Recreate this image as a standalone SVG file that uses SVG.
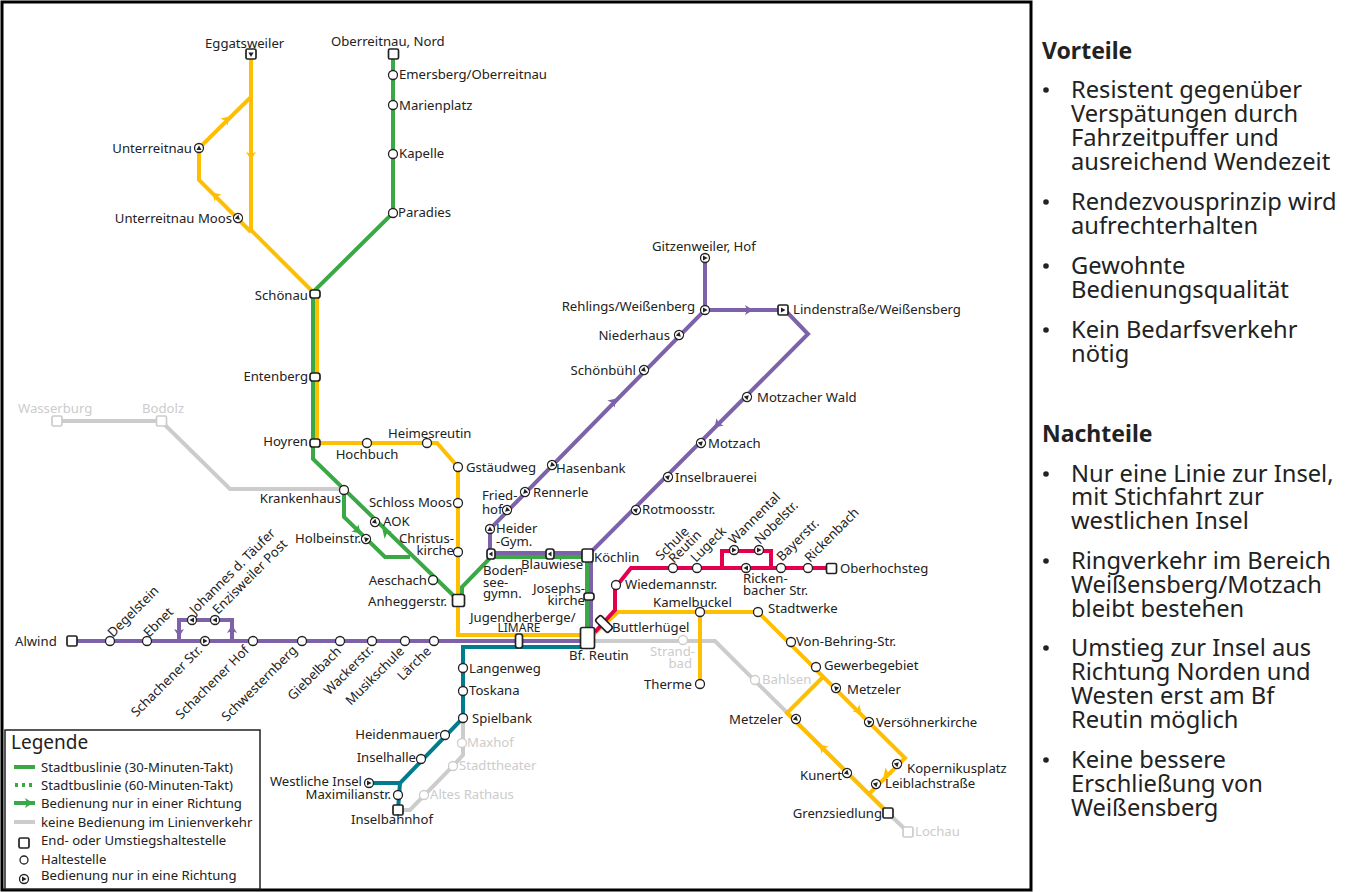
<svg xmlns="http://www.w3.org/2000/svg" width="1365" height="892" viewBox="0 0 1365 892">
<style>
text{font-family:"Noto Sans","Open Sans","Liberation Sans",sans-serif;font-size:13.15px;fill:#222}
.e{text-anchor:end}.m{text-anchor:middle}
.g text,text.g{fill:#ccc}
.l{fill:none;stroke-width:4;stroke-linejoin:miter}
.y{stroke:#ffbf00}.gr{stroke:#39a845}.p{stroke:#7d62aa}.t{stroke:#007c8c}.x{stroke:#ccc}.r{stroke:#e2004f}
.s{fill:#fff;stroke:#222;stroke-width:1.3}
.q{fill:#fff;stroke:#222;stroke-width:1.7}
.g .s,.g .q{stroke:#ccc}
.h{font-size:23.7px}.b{font-weight:700;font-size:23px}
.f{fill:#ffbf00}.fg{fill:#39a845}.fp{fill:#7d62aa}
</style>
<defs>
<g id="d"><circle class="s" r="4.5"/><path d="M-2.6 2 0-2.6 2.6 2Z" fill="#222"/></g>
<path id="a" d="M-5 3 0-5 5 3 0 1Z"/>
</defs>
<rect width="1365" height="892" fill="#fff"/>
<rect x="2" y="2" width="1029" height="888" fill="#fff" stroke="#000" stroke-width="3"/>
<g id="connectors">
<path class="l x" d="M57 421H161L230 489H344"/>
<path class="l x" d="M587 641H715L888 813L908 832"/>
<path class="l x" d="M463 718V755L453 766L410 810H398"/>
<path class="l y" d="M251 54V230L312 291M251 97L199 148V180L251 232M317 294V443H437L458 467V635H587M587 640L618 612H758L905 758L870 793M700 612V684M824 676L787 713L888 813"/>
<path class="l gr" d="M393 54V213L313 292V459L458 600M344 490V517L385 557H410M462 600V587L491 557H587V638"/>
<path class="l p" d="M72 641H587M179 641V620H232V641M705 258V310L490 529V553H591V638M705 310H785L808 334L591 552"/>
<path class="l t" d="M587 647H463V718L400 783L398 810M369 783H400"/>
<path class="l r" d="M595 632L615 610V588L631 568H831M722 568V551H771V568"/>
<g class="f">
<use href="#a" transform="translate(226 120) rotate(45)"/><use href="#a" transform="translate(251 155) rotate(180)"/><use href="#a" transform="translate(216 196) rotate(-45)"/>
<use href="#a" transform="translate(858 710) rotate(135)"/><use href="#a" transform="translate(823 748) rotate(-45)"/><use href="#a" transform="translate(887 773) rotate(225)"/>
</g>
<g class="fg"><use href="#a" transform="translate(357 530) rotate(135)"/><use href="#a" transform="translate(386 533) rotate(-45)"/></g>
<g class="fp">
<use href="#a" transform="translate(613 402) rotate(45)"/><use href="#a" transform="translate(718 424) rotate(225)"/><use href="#a" transform="translate(748 310) rotate(90)"/><use href="#a" transform="translate(550 553) rotate(-90)"/><use href="#a" transform="translate(179 632) rotate(180)"/><use href="#a" transform="translate(232 630)"/>
</g>
</g>
<g id="stops">
<g id="n-eggatsweiler"><rect class="q" x="246" y="49" width="10" height="10" rx="1.5"/><path d="M248.4 52.5H253.6L251 57Z" fill="#222"/><text x="205" y="48">Eggatsweiler</text></g>
<g id="n-oberreitnau"><rect class="q" x="388.500" y="49" width="10" height="10" rx="1.5"/><text x="331" y="46">Oberreitnau, Nord</text></g>
<g id="n-emersberg"><circle class="s" cx="393" cy="75" r="4.500"/><text x="399" y="79">Emersberg/Oberreitnau</text></g>
<g id="n-marienplatz"><circle class="s" cx="393" cy="105" r="4.500"/><text x="399" y="110">Marienplatz</text></g>
<g id="n-kapelle"><circle class="s" cx="393" cy="154" r="4.500"/><text x="399" y="158">Kapelle</text></g>
<g id="n-paradies"><circle class="s" cx="393" cy="213" r="4.500"/><text x="398" y="217">Paradies</text></g>
<g id="n-unterreitnau"><use href="#d" x="199" y="148"/><text class="e" x="192" y="153">Unterreitnau</text></g>
<g id="n-unterreitnau-moos"><use href="#d" transform="translate(238 218) rotate(135)"/><text class="e" x="232" y="223">Unterreitnau Moos</text></g>
<g id="n-schoenau"><rect class="q" x="310" y="290" width="10" height="8" rx="2.500"/><text class="e" x="308" y="300">Schönau</text></g>
<g id="n-entenberg"><rect class="q" x="310" y="373" width="10" height="8" rx="2.500"/><text class="e" x="308" y="381">Entenberg</text></g>
<g id="n-hoyren"><rect class="q" x="310" y="439" width="10" height="8" rx="2.500"/><text class="e" x="308" y="446">Hoyren</text></g>
<g id="n-hochbuch"><circle class="s" cx="367" cy="443" r="4.500"/><text class="m" x="367" y="459">Hochbuch</text></g>
<g id="n-heimesreutin"><circle class="s" cx="427" cy="443" r="4.500"/><text x="388" y="438">Heimesreutin</text></g>
<g id="n-gstaeudweg"><circle class="s" cx="458" cy="467" r="4.500"/><text x="466" y="472">Gstäudweg</text></g>
<g id="n-hasenbank"><use href="#d" transform="translate(552 465) rotate(225)"/><text x="556" y="473">Hasenbank</text></g>
<g id="n-rennerle"><use href="#d" transform="translate(525 492) rotate(225)"/><text x="533" y="497">Rennerle</text></g>
<g id="n-friedhof"><use href="#d" transform="translate(507 510) rotate(225)"/><text x="482" y="500">Fried-</text><text x="482" y="514">hof</text></g>
<g id="n-heider"><use href="#d" x="490" y="529"/><text x="496" y="533">Heider</text><text x="496" y="546">-Gym.</text></g>
<g id="n-bodensee"><rect class="q" x="487" y="549" width="8" height="10" rx="2.500"/><path d="M488.800 554 492.500 551.500V556.500Z" fill="#222"/><text x="483" y="575">Boden-</text><text x="483" y="587">see-</text><text x="483" y="598">gymn.</text></g>
<g id="n-blauwiese"><rect class="q" x="546" y="549" width="8" height="10" rx="2.500"/><path d="M547.800 554 551.500 551.500V556.500Z" fill="#222"/><text x="521" y="569">Blauwiese</text></g>
<g id="n-koechlin"><rect class="q" x="582" y="549" width="11" height="13" rx="2"/><text x="594" y="562">Köchlin</text></g>
<g id="n-josephskirche"><rect class="q" x="584" y="593" width="10" height="7" rx="2.500"/><text class="e" x="585" y="593">Josephs-</text><text class="e" x="585" y="605">kirche</text></g>
<g id="n-limare"><rect class="q" x="515.500" y="634" width="7" height="14" rx="2.500"/><text x="470" y="622">Jugendherberge/</text><text class="m" x="519" y="632" style="font-size:12px">LIMARE</text></g>
<g id="n-reutin"><rect class="q" x="580.500" y="627.500" width="14" height="21" rx="2"/><text x="569" y="660">Bf. Reutin</text></g>
<g id="n-buttlerhuegel"><rect class="q" x="595" y="620" width="18" height="8" rx="2.500" transform="rotate(45 604 624)"/><text x="612" y="632">Buttlerhügel</text></g>
<g id="n-wiedemann"><circle class="s" cx="616" cy="585" r="4.500"/><text x="625" y="589">Wiedemannstr.</text></g>
<g id="n-schule"><circle class="s" cx="673" cy="568" r="4.500"/><text x="661" y="561" transform="rotate(-45 661 561)">Schule</text><text x="674" y="564" transform="rotate(-45 674 564)">Reutin</text></g>
<g id="n-lugeck"><circle class="s" cx="697" cy="568" r="4.500"/><text x="696" y="563" transform="rotate(-45 696 563)">Lugeck</text></g>
<g id="n-wannental"><use href="#d" transform="translate(734 550) rotate(90)"/><text x="734" y="545" transform="rotate(-45 734 545)">Wannental</text></g>
<g id="n-nobelstr"><use href="#d" transform="translate(759 550) rotate(90)"/><text x="760" y="545" transform="rotate(-45 760 545)">Nobelstr.</text></g>
<g id="n-rickenbacher"><use href="#d" transform="translate(746 568) rotate(-90)"/><text x="743" y="583">Ricken-</text><text x="743" y="595">bacher Str.</text></g>
<g id="n-bayerstr"><circle class="s" cx="781" cy="568" r="4.500"/><text x="782" y="562" transform="rotate(-45 782 562)">Bayerstr.</text></g>
<g id="n-rickenbach"><circle class="s" cx="808" cy="568" r="4.500"/><text x="810" y="563" transform="rotate(-45 810 563)">Rickenbach</text></g>
<g id="n-oberhochsteg"><rect class="q" x="826.500" y="563.500" width="10" height="10" rx="1.500"/><text x="840" y="573">Oberhochsteg</text></g>
<g id="n-kamelbuckel"><circle class="s" cx="700" cy="612" r="4.500"/><text x="653" y="607">Kamelbuckel</text></g>
<g id="n-stadtwerke"><circle class="s" cx="758" cy="612" r="4.500"/><text x="768" y="613">Stadtwerke</text></g>
<g id="n-behring"><circle class="s" cx="791" cy="642" r="4.500"/><text x="796" y="646">Von-Behring-Str.</text></g>
<g id="n-gewerbe"><circle class="s" cx="816" cy="667" r="4.500"/><text x="824" y="670">Gewerbegebiet</text></g>
<g id="n-metzeler1"><use href="#d" transform="translate(836 688) rotate(-45)"/><text x="847" y="694">Metzeler</text></g>
<g id="n-versoehner"><use href="#d" transform="translate(869 722) rotate(-45)"/><text x="876" y="727">Versöhnerkirche</text></g>
<g id="n-kopernikus"><use href="#d" transform="translate(897 764) rotate(45)"/><text x="907" y="773">Kopernikusplatz</text></g>
<g id="n-leiblach"><use href="#d" transform="translate(876 784) rotate(45)"/><text x="885" y="788">Leiblachstraße</text></g>
<g id="n-kunert"><use href="#d" transform="translate(847 773) rotate(135)"/><text class="e" x="842" y="780">Kunert</text></g>
<g id="n-metzeler2"><use href="#d" transform="translate(796 719) rotate(135)"/><text class="e" x="783" y="724">Metzeler</text></g>
<g id="n-grenz"><rect class="q" x="883" y="808" width="10" height="10" rx="1.500"/><text class="e" x="882" y="818">Grenzsiedlung</text></g>
<g id="n-therme"><circle class="s" cx="700" cy="684" r="4.500"/><text class="e" x="692" y="689">Therme</text></g>
<g id="n-langenweg"><circle class="s" cx="463" cy="668" r="4.500"/><text x="469" y="673">Langenweg</text></g>
<g id="n-toskana"><circle class="s" cx="463" cy="691" r="4.500"/><text x="469" y="695">Toskana</text></g>
<g id="n-spielbank"><circle class="s" cx="463" cy="718" r="4.500"/><text x="472" y="723">Spielbank</text></g>
<g id="n-heidenmauer"><circle class="s" cx="445" cy="735" r="4.500"/><text class="e" x="440" y="739">Heidenmauer</text></g>
<g id="n-inselhalle"><circle class="s" cx="421" cy="759" r="4.500"/><text class="e" x="416" y="762">Inselhalle</text></g>
<g id="n-westinsel"><use href="#d" transform="translate(369 783) rotate(90)"/><text class="e" x="362" y="786">Westliche Insel</text></g>
<g id="n-maximilian"><circle class="s" cx="398" cy="795" r="4.500"/><text class="e" x="391" y="799">Maximilianstr.</text></g>
<g id="n-inselbahnhof"><rect class="q" x="393" y="805" width="10" height="10" rx="1.500"/><text x="351" y="824">Inselbahnhof</text></g>
<g id="n-krankenhaus"><circle class="s" cx="344" cy="490" r="4.500"/><text class="e" x="341" y="503">Krankenhaus</text></g>
<g id="n-schlossmoos"><circle class="s" cx="458" cy="503" r="4.500"/><text class="e" x="452" y="507">Schloss Moos</text></g>
<g id="n-aok"><use href="#d" transform="translate(375 522) rotate(135)"/><text x="383" y="526">AOK</text></g>
<g id="n-holbein"><use href="#d" transform="translate(366 539) rotate(-45)"/><text class="e" x="361" y="543">Holbeinstr.</text></g>
<g id="n-christus"><circle class="s" cx="458" cy="552" r="4.500"/><text class="e" x="454" y="543">Christus-</text><text class="e" x="454" y="555">kirche</text></g>
<g id="n-aeschach"><circle class="s" cx="433" cy="580" r="4.500"/><text class="e" x="427" y="585">Aeschach</text></g>
<g id="n-anhegger"><rect class="q" x="452.500" y="594.500" width="12" height="12" rx="2"/><text class="e" x="447" y="606">Anheggerstr.</text></g>
<g id="n-alwind"><rect class="q" x="67" y="636" width="10" height="10" rx="1.500"/><text x="15" y="646">Alwind</text></g>
<g id="n-degelstein"><circle class="s" cx="110" cy="641" r="4.500"/><text x="113" y="638" transform="rotate(-45 113 638)">Degelstein</text></g>
<g id="n-ebnet"><circle class="s" cx="147" cy="641" r="4.500"/><text x="149" y="638" transform="rotate(-45 149 638)">Ebnet</text></g>
<g id="n-johannes"><use href="#d" transform="translate(192 620) rotate(-90)"/><text x="195" y="615" transform="rotate(-45 195 615)">Johannes d. Täufer</text></g>
<g id="n-enzisweiler"><use href="#d" transform="translate(215 620) rotate(-90)"/><text x="218" y="615" transform="rotate(-45 218 615)">Enzisweiler Post</text></g>
<g id="n-schachenerstr"><use href="#d" transform="translate(205 641) rotate(90)"/><text class="e" x="203" y="651" transform="rotate(-45 203 651)">Schachener Str.</text></g>
<g id="n-schachenerhof"><circle class="s" cx="253" cy="641" r="4.500"/><text class="e" x="250" y="651" transform="rotate(-45 250 651)">Schachener Hof</text></g>
<g id="n-schwestern"><circle class="s" cx="302" cy="641" r="4.500"/><text class="e" x="298" y="651" transform="rotate(-45 298 651)">Schwesternberg</text></g>
<g id="n-giebelbach"><circle class="s" cx="340" cy="641" r="4.500"/><text class="e" x="342" y="652" transform="rotate(-45 342 652)">Giebelbach</text></g>
<g id="n-wackerstr"><circle class="s" cx="372" cy="641" r="4.500"/><text class="e" x="374" y="651" transform="rotate(-45 374 651)">Wackerstr.</text></g>
<g id="n-musikschule"><circle class="s" cx="405" cy="641" r="4.500"/><text class="e" x="405" y="652" transform="rotate(-45 405 652)">Musikschule</text></g>
<g id="n-laerche"><circle class="s" cx="434" cy="641" r="4.500"/><text class="e" x="432" y="652" transform="rotate(-45 432 652)">Lärche</text></g>
<g id="n-gitzenweiler"><use href="#d" transform="translate(705 258) rotate(90)"/><text x="652" y="251">Gitzenweiler, Hof</text></g>
<g id="n-rehlings"><use href="#d" transform="translate(705 310) rotate(90)"/><text class="e" x="695" y="311">Rehlings/Weißenberg</text></g>
<g id="n-lindenstr"><rect class="q" x="778" y="305" width="10" height="10" rx="1.500"/><path d="M781 307.500 785.500 310 781 312.500Z" fill="#222"/><text x="793" y="314">Lindenstraße/Weißensberg</text></g>
<g id="n-niederhaus"><use href="#d" transform="translate(679 335) rotate(135)"/><text class="e" x="670" y="340">Niederhaus</text></g>
<g id="n-schoenbuehl"><use href="#d" transform="translate(644 370) rotate(135)"/><text class="e" x="636" y="375">Schönbühl</text></g>
<g id="n-motzwald"><use href="#d" transform="translate(747 397) rotate(45)"/><text x="757" y="402">Motzacher Wald</text></g>
<g id="n-motzach"><use href="#d" transform="translate(701 443) rotate(45)"/><text x="708" y="448">Motzach</text></g>
<g id="n-inselbrauerei"><use href="#d" transform="translate(668 477) rotate(45)"/><text x="675" y="482">Inselbrauerei</text></g>
<g id="n-rotmoos"><use href="#d" transform="translate(636 510) rotate(45)"/><text x="642" y="514">Rotmoosstr.</text></g>
<g class="g" id="unserved">
<g id="n-wasserburg"><rect class="q" x="52" y="416" width="10" height="10" rx="1.500"/><text x="18" y="413">Wasserburg</text></g>
<g id="n-bodolz"><rect class="q" x="156.500" y="416" width="10" height="10" rx="1.500"/><text x="142" y="413">Bodolz</text></g>
<g id="n-strandbad"><circle class="s" cx="683" cy="640" r="4.500"/><text class="e" x="695" y="656">Strand-</text><text class="e" x="692" y="668">bad</text></g>
<g id="n-bahlsen"><circle class="s" cx="755" cy="680" r="4.500"/><text x="762" y="684">Bahlsen</text></g>
<g id="n-lochau"><rect class="q" x="903" y="827" width="10" height="10" rx="1.500"/><text x="915" y="836">Lochau</text></g>
<g id="n-maxhof"><circle class="s" cx="462" cy="743" r="4.500"/><text x="467" y="747">Maxhof</text></g>
<g id="n-stadttheater"><circle class="s" cx="453" cy="766" r="4.500"/><text x="459" y="770">Stadttheater</text></g>
<g id="n-altesrathaus"><circle class="s" cx="424" cy="795" r="4.500"/><text x="430" y="799">Altes Rathaus</text></g>
</g>
</g>
<g id="legend">
<rect x="5" y="730" width="255" height="159" fill="#fff" stroke="#222" stroke-width="1.500"/>
<text x="11" y="749" style="font-size:19px">Legende</text>
<path class="l gr" d="M14 767H35"/><path class="l gr" d="M15 785H35" stroke-dasharray="3 4"/><path class="l gr" d="M14 803H35"/>
<use class="fg" href="#a" transform="translate(28 803) rotate(90)"/>
<path class="l x" d="M14 822H35"/>
<rect class="q" x="19" y="838" width="10" height="10" rx="1.500"/>
<circle class="s" cx="24" cy="860" r="4"/>
<use href="#d" transform="translate(24 879) rotate(90)"/>
<text x="41" y="772">Stadtbuslinie (30-Minuten-Takt)</text>
<text x="41" y="790">Stadtbuslinie (60-Minuten-Takt)</text>
<text x="41" y="808">Bedienung nur in einer Richtung</text>
<text x="41" y="827">keine Bedienung im Linienverkehr</text>
<text x="41" y="845">End- oder Umstiegshaltestelle</text>
<text x="41" y="864">Haltestelle</text>
<text x="41" y="880">Bedienung nur in eine Richtung</text>
</g>
<g id="notes">
<text class="b" x="1042" y="59">Vorteile</text>
<text class="b" x="1042" y="442">Nachteile</text>
<g fill="#222"><circle cx="1046" cy="90" r="2.800"/><circle cx="1046" cy="202" r="2.800"/><circle cx="1046" cy="266" r="2.800"/><circle cx="1046" cy="330" r="2.800"/><circle cx="1046" cy="474" r="2.800"/><circle cx="1046" cy="561" r="2.800"/><circle cx="1046" cy="648" r="2.800"/><circle cx="1046" cy="760" r="2.800"/></g>
<g class="k">
<text class="h" x="1071" y="98">Resistent gegenüber</text>
<text class="h" x="1071" y="122">Verspätungen durch</text>
<text class="h" x="1071" y="146">Fahrzeitpuffer und</text>
<text class="h" x="1071" y="170">ausreichend Wendezeit</text>
<text class="h" x="1071" y="210">Rendezvousprinzip wird</text>
<text class="h" x="1071" y="234">aufrechterhalten</text>
<text class="h" x="1071" y="274">Gewohnte</text>
<text class="h" x="1071" y="298">Bedienungsqualität</text>
<text class="h" x="1071" y="338">Kein Bedarfsverkehr</text>
<text class="h" x="1071" y="362">nötig</text>
<text class="h" x="1071" y="482">Nur eine Linie zur Insel,</text>
<text class="h" x="1071" y="505">mit Stichfahrt zur</text>
<text class="h" x="1071" y="529">westlichen Insel</text>
<text class="h" x="1071" y="569">Ringverkehr im Bereich</text>
<text class="h" x="1071" y="593">Weißensberg/Motzach</text>
<text class="h" x="1071" y="617">bleibt bestehen</text>
<text class="h" x="1071" y="656">Umstieg zur Insel aus</text>
<text class="h" x="1071" y="680">Richtung Norden und</text>
<text class="h" x="1071" y="704">Westen erst am Bf</text>
<text class="h" x="1071" y="728">Reutin möglich</text>
<text class="h" x="1071" y="768">Keine bessere</text>
<text class="h" x="1071" y="792">Erschließung von</text>
<text class="h" x="1071" y="816">Weißensberg</text>
</g>
</g>
</svg>
